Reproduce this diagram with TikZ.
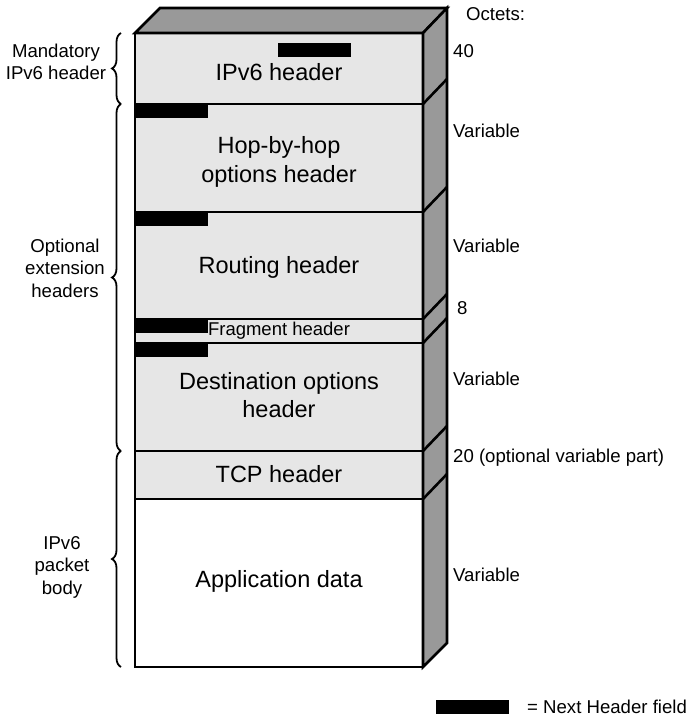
\documentclass[tikz,border=0pt]{standalone}
\usepackage{fontspec}
\setmainfont{Liberation Sans}
\usetikzlibrary{decorations.pathreplacing}
\definecolor{frontgray}{HTML}{E6E6E6}
\definecolor{sidegray}{HTML}{999999}
\begin{document}
\begin{tikzpicture}[x=1pt,y=-1pt,
  layer/.style={draw, line width=2.6pt, fill=frontgray, minimum width=288pt, anchor=north west,
    inner sep=0pt, outer sep=0pt, align=center, font=\fontsize{23.5}{28}\selectfont},
  laytext/.style={inner sep=0pt, align=center, font=\fontsize{23.5}{28.5}\selectfont},
  nhbar/.style={fill=black, minimum width=73pt, minimum height=14pt, inner sep=0pt, outer sep=0pt, anchor=north west},
  side/.style={draw, line width=2.6pt, fill=sidegray, line join=miter},
  edge3d/.style={line width=2.6pt},
  octet/.style={anchor=west, inner sep=0pt, font=\fontsize{18.6}{22}\selectfont},
  leftlab/.style={align=center, inner sep=0pt, font=\fontsize{18.6}{22.5}\selectfont},
  lbrace/.style={decorate, decoration={brace, amplitude=9pt}, line width=1.8pt}
]
\useasboundingbox (0,0) rectangle (688,719);

% front layers
\node[layer, minimum height=71pt]  (ipv6) at (135,33)  {};
\node[layer, minimum height=108pt] (hop)  at (135,104) {};
\node[layer, minimum height=107pt] (rout) at (135,212) {};
\node[layer, minimum height=24pt, font=\fontsize{18.5}{20}\selectfont] (frag) at (135,319) {Fragment header};
\node[layer, minimum height=108pt] (dest) at (135,343) {};
\node[layer, minimum height=48pt]  (tcp)  at (135,451) {};
\node[layer, minimum height=168pt, fill=white] (app) at (135,499) {};

\node[laytext] (ipv6t) at (279,72) {IPv6 header};
\node[laytext] (hopt) at (279,162) {Hop-by-hop\\options header};
\node[laytext] (routt) at (279,267) {Routing header};
\node[laytext] (destt) at (279,395) {Destination options\\header};
\node[laytext] (tcpt) at (279,474) {TCP header};
\node[laytext] (appt) at (279,581) {Application data};

% top and side faces
\filldraw[side] (ipv6.north west) -- ++(25,-25) -- ++(287,0) -- (ipv6.north east) -- cycle;
\filldraw[side] (ipv6.north east) -- ++(24,-25) -- (447,643) -- (app.south east) -- cycle;
\draw[edge3d] (ipv6.south east) -- ++(24,-25);
\draw[edge3d] (hop.south east) -- ++(24,-25);
\draw[edge3d] (rout.south east) -- ++(24,-25);
\draw[edge3d] (frag.south east) -- ++(24,-25);
\draw[edge3d] (dest.south east) -- ++(24,-25);
\draw[edge3d] (tcp.south east) -- ++(24,-25);

% next header bars
\node[nhbar] (b0) at (278,43) {};
\node[nhbar] (b1) at (135,104) {};
\node[nhbar] (b2) at (135,212) {};
\node[nhbar] (b3) at (135,319) {};
\node[nhbar] (b4) at (135,343) {};

% octets
\node[octet] (oct) at (466,14) {Octets:};
\node[octet] (o1) at (453,51) {40};
\node[octet] (o2) at (453,131) {Variable};
\node[octet] (o3) at (453,246) {Variable};
\node[octet] (o4) at (457,308) {8};
\node[octet] (o5) at (453,379) {Variable};
\node[octet] (o6) at (453,458) {20 (optional variable part)};
\node[octet] (o7) at (453,575) {Variable};

% braces
\draw[lbrace] (121,104) -- (121,33);
\draw[lbrace] (121,451) -- (121,104);
\draw[lbrace] (121,667) -- (121,451);
\node[leftlab] (l1) at (56,62) {Mandatory\\IPv6 header};
\node[leftlab] (l2) at (65,268) {Optional\\extension\\headers};
\node[leftlab] (l3) at (62,567) {IPv6\\packet\\body};

% legend
\node[nhbar] (lb) at (436,700) {};
\node[octet, anchor=west] (lt) at (527,707) {= Next Header field};
\end{tikzpicture}
\end{document}
